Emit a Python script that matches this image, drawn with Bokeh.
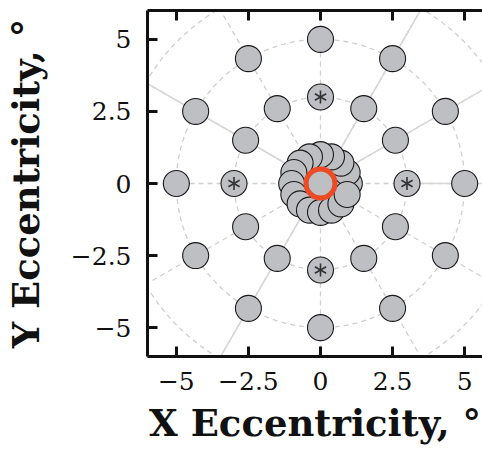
import numpy as np
from bokeh.plotting import figure
from bokeh.models import Range1d, LinearAxis, FixedTicker, CustomJSTickFormatter
from bokeh.embed import file_html
from bokeh.resources import INLINE

# ---- data ----
ring_angles_deg = [0, 30, 60, 90, 120, 150, 180, 210, 240, 270, 300, 330]
ring_radii = [3, 5]
cluster_angles_deg = [0, 22.5, 45, 67.5, 90, 112.5, 135, 157.5,
                      180, 202.5, 225, 247.5, 270, 292.5, 315, 337.5]
cluster_radius = 1.0
star_angles_deg = [0, 90, 180, 270]
star_radius = 3
grid_radii = [3, 5, 7]
spoke_angles_deg = [0, 30, 60, 90, 120, 150, 180, 210, 240, 270, 300, 330]
solid_spoke_angles_deg = [0, 30, 60, 150, 240]
solid_spoke_starts = [3, 0, 0, 0, 0]
spoke_end = 9
center_x = [0.0]
center_y = [0.0]
tick_values = [-5, -2.5, 0, 2.5, 5]
x_label = "X Eccentricity, \u00b0"
y_label = "Y Eccentricity, \u00b0"


def polar(r, a_deg):
    a = np.radians(np.asarray(a_deg, dtype=float))
    r = np.asarray(r, dtype=float)
    return r * np.cos(a), r * np.sin(a)


FILL = "#bebfc3"
EDGE = "#1a1a1a"
DASH_COL = "#cfcfcf"
SOLID_COL = "#d6d6d6"
RED = "#ee4a24"

p = figure(frame_width=335, frame_height=346,
           x_range=Range1d(-6, -6 + 335 / (346 / 12)), y_range=Range1d(-6, 6),
           output_backend="svg", toolbar_location=None,
           min_border_left=147, min_border_top=10, min_border_right=0,
           min_border_bottom=95)
p.outline_line_color = None
p.grid.visible = False
p.background_fill_color = "white"
p.border_fill_color = "white"

bottom = p.below[0]
left = p.left[0]

# grid circles (dashed)
p.circle(x=[0] * len(grid_radii), y=[0] * len(grid_radii), radius=grid_radii,
         fill_color=None, line_color=DASH_COL, line_width=1.3, line_dash="5 4")

# dashed spokes
sx0, sy0 = polar([0] * len(spoke_angles_deg), spoke_angles_deg)
sx1, sy1 = polar([spoke_end] * len(spoke_angles_deg), spoke_angles_deg)
p.segment(x0=sx0, y0=sy0, x1=sx1, y1=sy1, line_color=DASH_COL,
          line_width=1.3, line_dash="5 4")

# solid spokes
tx0, ty0 = polar(solid_spoke_starts, solid_spoke_angles_deg)
tx1, ty1 = polar([spoke_end] * len(solid_spoke_angles_deg), solid_spoke_angles_deg)
p.segment(x0=tx0, y0=ty0, x1=tx1, y1=ty1, line_color=SOLID_COL, line_width=1.5)

# central cluster
cx, cy = polar([cluster_radius] * len(cluster_angles_deg), cluster_angles_deg)
p.scatter(cx, cy, marker="circle", size=26, fill_color=FILL, line_color=EDGE,
          line_width=1.1)

# centre point and red ring
p.scatter(center_x, center_y, marker="circle", size=26, fill_color=FILL,
          line_color=EDGE, line_width=1.1)
p.scatter(center_x, center_y, marker="circle", size=29, fill_color=None,
          line_color=RED, line_width=5)

# rings of points
for r in ring_radii:
    rx, ry = polar([r] * len(ring_angles_deg), ring_angles_deg)
    p.scatter(rx, ry, marker="circle", size=26, fill_color=FILL,
              line_color=EDGE, line_width=1.1)

# asterisks (6 arms)
arm_angles = [90, 270, 30, 150, 210, 330]
stx, sty = polar([star_radius] * len(star_angles_deg), star_angles_deg)
ax_x = np.repeat(stx, len(arm_angles))
ax_y = np.repeat(sty, len(arm_angles))
ax_a = np.radians(np.tile(arm_angles, len(star_angles_deg)))
p.ray(x=ax_x, y=ax_y, angle=ax_a, length=6.5, length_units="screen",
      line_color="#333333", line_width=1.6)

# axes
top = LinearAxis()
p.add_layout(top, "above")
fmt = CustomJSTickFormatter(code="return String(tick).replace('-', '\u2212');")
for ax in [bottom, left, top]:
    ax.ticker = FixedTicker(ticks=tick_values)
    ax.formatter = fmt
    ax.axis_line_width = 3
    ax.axis_line_color = "#111111"
    ax.major_tick_line_width = 3
    ax.major_tick_line_color = "#111111"
    ax.major_tick_in = 10
    ax.major_tick_out = 0
    ax.minor_tick_line_color = None
    ax.major_label_text_font = "DejaVu Serif"
    ax.major_label_text_font_size = "25px"
    ax.major_label_text_color = "#111111"
    ax.axis_label_text_font = "DejaVu Serif"
    ax.axis_label_text_font_style = "bold"
    ax.axis_label_text_font_size = "37px"
    ax.axis_label_text_color = "#111111"

top.formatter = CustomJSTickFormatter(code="return '';")
top.major_label_standoff = 0
top.major_label_text_font_size = "1px"
bottom.axis_label = x_label
left.axis_label = y_label
bottom.major_label_standoff = 15
left.major_label_standoff = 16
bottom.axis_label_standoff = 8
left.axis_label_standoff = 20

open("out.html", "w").write(file_html(p, INLINE))
